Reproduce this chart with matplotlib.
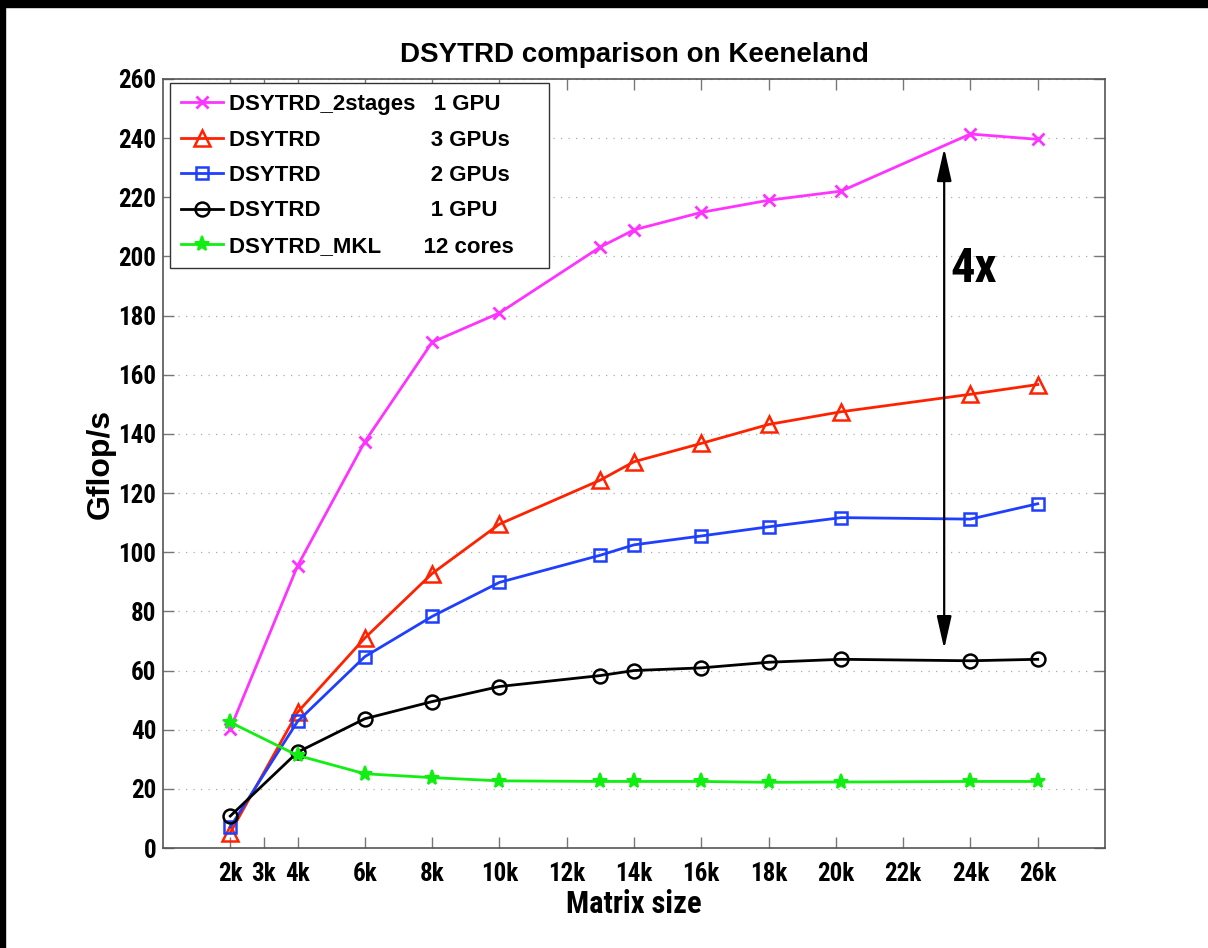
import matplotlib
matplotlib.use('Agg')
import matplotlib.pyplot as plt
from matplotlib import font_manager
from matplotlib.patches import Rectangle

# matrix sizes (in thousands)
sizes = [2, 4, 6, 8, 10, 13, 14, 16, 18, 20.16, 24, 26]

# Gflop/s
two_stage_1gpu = [40.3, 95.4, 137.4, 171.0, 180.9, 203.2, 209.0, 214.9, 219.0, 222.1, 241.4, 239.6]
dsytrd_3gpu = [5.2, 45.9, 71.0, 92.8, 109.5, 124.4, 130.6, 136.8, 143.2, 147.5, 153.4, 156.7]
dsytrd_2gpu = [7.1, 42.8, 64.7, 78.3, 89.8, 99.0, 102.5, 105.5, 108.6, 111.7, 111.2, 116.4]
dsytrd_1gpu = [10.8, 32.4, 43.7, 49.5, 54.6, 58.3, 60.0, 60.9, 62.8, 63.8, 63.3, 63.8]
dsytrd_mkl = [42.5, 31.3, 25.1, 23.8, 22.7, 22.5, 22.5, 22.5, 22.2, 22.3, 22.5, 22.5]

labels = ['DSYTRD_2stages   1 GPU',
          'DSYTRD' + ' ' * 18 + '3 GPUs',
          'DSYTRD' + ' ' * 18 + '2 GPUs',
          'DSYTRD' + ' ' * 18 + '1 GPU',
          'DSYTRD_MKL' + ' ' * 7 + '12 cores    ']

xticks = [2, 3, 4, 6, 8, 10, 12, 14, 16, 18, 20, 22, 24, 26]
xtick_labels = ['%dk' % t for t in xticks]
yticks = list(range(0, 261, 20))

# the "4x" arrow between 2-stage and 1 GPU
arrow_x = 23.22
arrow_top = 236.6
arrow_bot = 67.3

installed = set(f.name for f in font_manager.fontManager.ttflist)
narrow = 'Liberation Sans'
for cand in ['Liberation Sans Narrow', 'Roboto Condensed', 'DejaVu Sans Condensed']:
    if cand in installed:
        narrow = cand
        break
wide = 'Liberation Sans'
tick_size = 18 if narrow != wide else 17

fig = plt.figure(figsize=(12.08, 9.48), dpi=100)
ax = fig.add_axes([163 / 1208, 1 - 848 / 948, 942 / 1208, 769 / 948])

lw = 2.0
ax.plot(sizes, two_stage_1gpu, color='#ff33ff', lw=lw, marker='x', ms=8, mew=2, label=labels[0])
ax.plot(sizes, dsytrd_3gpu, color='#ff2200', lw=lw, marker='^', ms=11, mew=1.8,
        mfc='none', label=labels[1])
ax.plot(sizes, dsytrd_2gpu, color='#1f3fff', lw=lw, marker='s', ms=8, mew=1.8,
        mfc='none', label=labels[2])
ax.plot(sizes, dsytrd_1gpu, color='black', lw=lw, marker='o', ms=10, mew=1.8,
        mfc='none', label=labels[3])
ax.plot(sizes, dsytrd_mkl, color='#11ee11', lw=lw, marker='*', ms=11, mew=1.5,
        label=labels[4])

ax.set_xlim(0, 28)
ax.set_ylim(0, 260)

ax.set_xticks(xticks)
ax.set_xticklabels(xtick_labels, family=narrow, fontweight='bold', fontsize=tick_size)
ax.set_yticks(yticks)
ax.set_yticklabels([str(v) for v in yticks], family=narrow, fontweight='bold', fontsize=tick_size)
ax.tick_params(direction='in', length=8, width=1, colors='#777777', labelcolor='black',
               top=True, right=True)
ax.tick_params(axis='x', pad=10)
ax.tick_params(axis='y', pad=5)

for s in ax.spines.values():
    s.set_color('#555555')
    s.set_linewidth(1.2)

ax.yaxis.grid(True, linestyle=(0, (1, 5)), color='#aaaaaa', lw=0.9)
ax.set_axisbelow(True)

ax.set_title('DSYTRD comparison on Keeneland', family=wide, fontweight='bold',
             fontsize=20, pad=12)
ax.set_xlabel('Matrix size', family=narrow, fontweight='bold', fontsize=22, labelpad=2)
ax.set_ylabel('Gflop/s', family=wide, fontweight='bold', fontsize=23)
ax.yaxis.set_label_coords(-0.05, 0.5)

ax.annotate('', xy=(arrow_x, arrow_top), xytext=(arrow_x, arrow_bot),
            arrowprops=dict(arrowstyle='<|-|>,head_length=2.0,head_width=0.45',
                            color='black', lw=1.6, shrinkA=0, shrinkB=0))
ax.text(arrow_x + 0.17, 195.7, '4x', family=narrow, fontweight='bold', fontsize=35,
        ha='left', va='center')

leg = ax.legend(loc='upper left', bbox_to_anchor=(7 / 942, 1 - 4 / 769), borderaxespad=0,
                prop={'family': wide, 'weight': 'bold', 'size': 16},
                handlelength=1.9, handletextpad=0.25, labelspacing=0.65, borderpad=0.5,
                fancybox=False, framealpha=1)
leg.get_frame().set_edgecolor('#333333')
leg.get_frame().set_linewidth(1.0)

# black strips along the top and left edge of the screenshot
fig.patches.append(Rectangle((0, 1 - 7 / 948), 1, 7 / 948, transform=fig.transFigure,
                             color='black', zorder=10))
fig.patches.append(Rectangle((0, 0), 5 / 1208, 1, transform=fig.transFigure,
                             color='black', zorder=10))

fig.savefig('out.png', dpi=100)
